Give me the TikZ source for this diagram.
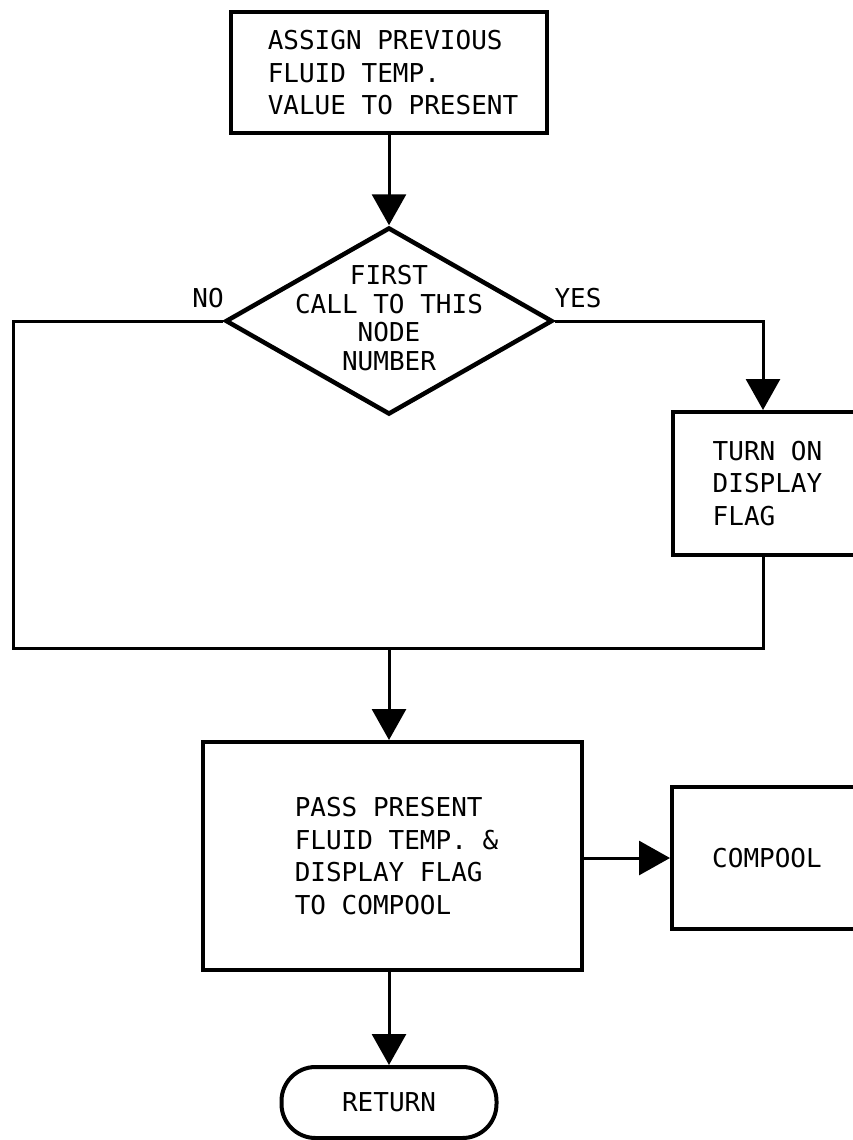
\documentclass[tikz,border=0pt]{standalone}
\usepackage{fontspec}
\setmonofont{DejaVu Sans Mono}
\usetikzlibrary{shapes.geometric,arrows.meta}

\tikzset{
    block/.style={draw, rectangle, line width=4pt, inner sep=0pt, align=left},
    decision/.style={draw, diamond, line width=4.5pt, inner sep=0pt},
    flowline/.style={line width=3pt},
    flowarrow/.style={line width=3pt, -{Triangle[length=31pt,width=34pt]}},
}

\begin{document}
\begin{tikzpicture}[x=1pt, y=-1pt, font=\ttfamily\fontsize{26}{32.5}\selectfont]
            \useasboundingbox (0,0) rectangle (853,1140);

            % Define nodes
            \node[block, minimum width=316pt, minimum height=121pt, text depth=0pt] (assign) at (389,72.5) {\hspace*{8pt}ASSIGN PREVIOUS\\\hspace*{8pt}FLUID TEMP.\\\hspace*{8pt}VALUE TO PRESENT};
            \node[decision, minimum width=327pt, minimum height=187pt] (first) at (389,321) {};
            \node[align=center, font=\ttfamily\fontsize{26}{28.5}\selectfont] (firsttext) at (389,318) {FIRST\\CALL TO THIS\\NODE\\NUMBER};
            \node (nolabel) at (208,298) {NO};
            \node (yeslabel) at (578,298) {YES};
            \node[block, minimum width=189pt, minimum height=143pt] (turnon) at (767.5,483.5) {TURN ON\\DISPLAY\\FLAG};
            \node[block, minimum width=379pt, minimum height=228pt] (pass) at (392.5,856) {\hspace*{8pt}PASS PRESENT\\\hspace*{8pt}FLUID TEMP. \&\\\hspace*{8pt}DISPLAY FLAG\\\hspace*{8pt}TO COMPOOL};
            \node[block, minimum width=190pt, minimum height=142pt] (compool) at (767,858) {COMPOOL};
            \node[draw, rectangle, line width=4pt, rounded corners=34pt, minimum width=215pt, minimum height=71pt] (return) at (389,1102.5) {RETURN};

            \coordinate (lowleft) at (13,648);
            \coordinate (lowright) at (763,648);

            % Draw edges
            \draw[flowarrow] (assign.south -| first.north) -- (first.north);
            \draw[flowarrow] (first.east) -| ([xshift=-4.5pt]turnon.north);
            \draw[flowline] (first.west) -| (lowleft) -- (lowright) -- ([xshift=-4.5pt]turnon.south);
            \draw[flowarrow] (lowleft -| first.south) -- (first.south |- pass.north);
            \draw[flowarrow] (pass.east |- compool.west) -- (compool.west);
            \draw[flowarrow] (pass.south -| return.north) -- (return.north);

        \end{tikzpicture}
\end{document}
